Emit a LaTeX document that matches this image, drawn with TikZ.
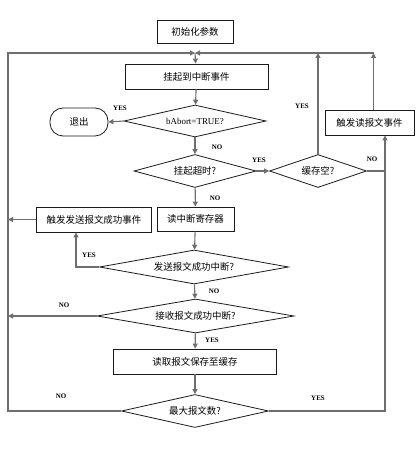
\documentclass[tikz,border=0pt]{standalone}
\usepackage{fontspec}
\setmainfont{Liberation Serif}
\newfontfamily\cjk{Noto Sans CJK SC}
\usetikzlibrary{arrows.meta, shapes.geometric}
\definecolor{inkline}{HTML}{6E6E6E}
\definecolor{inkedge}{HTML}{1A1A1A}
\tikzset{
  procbox/.style={draw=inkedge, line width=0.8pt, fill=white, inner sep=0pt,
    font=\cjk\fontsize{9.5}{10}\selectfont},
  decide/.style={diamond, aspect=4, draw=inkedge, line width=0.8pt, fill=white,
    inner sep=0pt, font=\cjk\fontsize{9.5}{10}\selectfont},
  flow/.style={-{Triangle[length=5bp,width=5bp]}, inkline, line width=1.1pt},
  plain/.style={inkline, line width=1.1pt},
  tag/.style={inner sep=0pt, font=\bfseries\fontsize{7}{8}\selectfont}
}
\newcommand{\flowtag}[3]{\node[tag] (#1) at (#2) {#3};}

\begin{document}
\begin{tikzpicture}[x=1bp, y=-1bp]
  \useasboundingbox (0,0) rectangle (416,451);
  % boxes and decisions
  \node[procbox, minimum width=76bp, minimum height=23bp] (init) at (195,32) {初始化参数};
  \node[procbox, minimum width=143bp, minimum height=25bp] (wait) at (196.5,76.5) {挂起到中断事件};
  \node[decide, minimum width=142bp, minimum height=32bp, font=\rmfamily\fontsize{9}{10}\selectfont] (abort) at (195,121) {bAbort=TRUE?};
  \node[procbox, rounded corners=13bp, minimum width=58bp, minimum height=28bp] (exit) at (79,122) {退出};
  \node[decide, minimum width=122bp, minimum height=33bp] (tmo) at (195,171) {挂起超时?};
  \node[decide, minimum width=97bp, minimum height=33bp] (empty) at (318,171) {缓存空?};
  \node[procbox, minimum width=89bp, minimum height=25bp] (rdev) at (369.5,122.5) {触发读报文事件};
  \node[procbox, minimum width=77bp, minimum height=24bp] (rreg) at (195.5,219) {读中断寄存器};
  \node[procbox, minimum width=115bp, minimum height=25bp] (sev) at (94,219.5) {触发发送报文成功事件};
  \node[decide, minimum width=189bp, minimum height=34bp] (sint) at (194,267) {发送报文成功中断?};
  \node[decide, minimum width=197bp, minimum height=34bp] (rint) at (195.5,316) {接收报文成功中断?};
  \node[procbox, minimum width=163bp, minimum height=25bp] (save) at (195,361.5) {读取报文保存至缓存};
  \node[decide, minimum width=147bp, minimum height=33bp] (max) at (195,411) {最大报文数?};
  \coordinate (join) at (195,53);
  \coordinate (lrail) at (8,53);
  \coordinate (rail) at (385,171);

  % connectors
  \draw[flow] (join) -- (wait);
  \draw[flow] (wait) -- (abort);
  \draw[flow] (abort.west) -- (exit.east);
  \draw[flow] (abort) -- (tmo);
  \draw[flow] (tmo.east) -- (empty.west);
  \draw[flow] (empty.north) -- (empty.north |- join);
  \draw[plain] (empty.east) -- (rail);
  \draw[flow] ([xshift=4bp]rdev.north) -- ([xshift=4bp]rdev.north |- join);
  \draw[flow] ([xshift=4bp]rdev.north |- join) -- (join);
  \draw[flow] (tmo) -- (rreg);
  \draw[flow] (rreg) -- (sint);
  \draw[flow] (sint.west) -| ([xshift=-18bp]sev.south);
  \draw[flow] (sev.west) -- (sev.west -| lrail);
  \draw[flow] (sint) -- (rint);
  \draw[flow] (rint.west) -- (rint.west -| lrail);
  \draw[flow] (rint) -- (save);
  \draw[flow] (save) -- (max);
  \draw[flow] (max.west) -| (lrail) -- (join);
  \draw[flow] (max.east) -| (rail) -- (rail |- rdev.south);

  % labels
  \flowtag{yesabort}{120,108}{YES}
  \flowtag{noabort}{217,147}{NO}
  \flowtag{yestmo}{259,160}{YES}
  \flowtag{notmo}{215,198}{NO}
  \flowtag{yesempty}{302,106}{YES}
  \flowtag{noempty}{372,159}{NO}
  \flowtag{yessint}{89,255}{YES}
  \flowtag{nosint}{214,291}{NO}
  \flowtag{norint}{64,305}{NO}
  \flowtag{yesrint}{212,340}{YES}
  \flowtag{nomax}{61,396}{NO}
  \flowtag{yesmax}{318,398}{YES}
\end{tikzpicture}
\end{document}
